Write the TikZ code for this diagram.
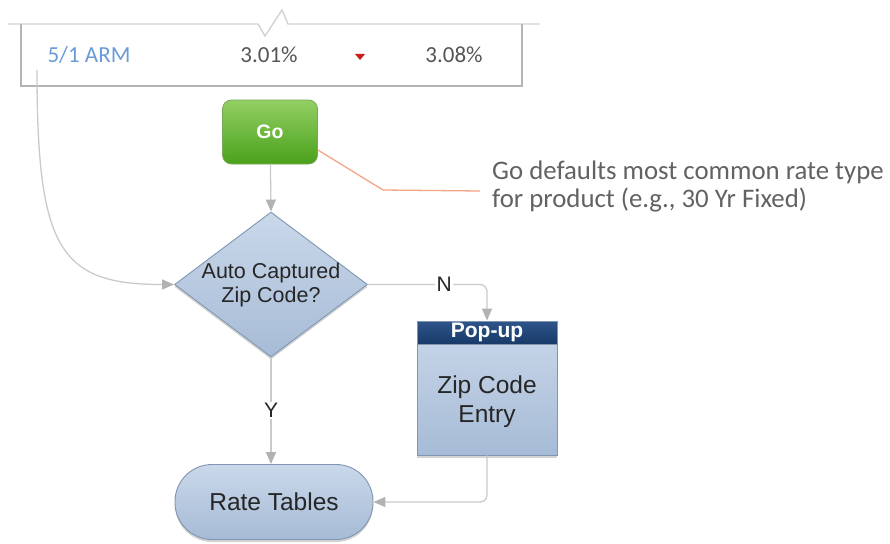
\documentclass[tikz,border=0pt]{standalone}
\usepackage{fontspec}
\setmainfont{Liberation Sans}
\newfontfamily\calfont{Carlito}
\usetikzlibrary{shapes.geometric,arrows.meta,shadows,calc}

\definecolor{lineGrey}{HTML}{CACACA}
\definecolor{tipGrey}{HTML}{B2B2B2}
\definecolor{boxGrey}{HTML}{B4B4B4}
\definecolor{rowLine}{HTML}{D2D2D2}
\definecolor{armBlue}{HTML}{6B9BD6}
\definecolor{rateText}{HTML}{555555}
\definecolor{downRed}{HTML}{C81E1E}
\definecolor{noteText}{HTML}{626262}
\definecolor{noteLine}{HTML}{F2A587}
\definecolor{goTop}{HTML}{93CF63}
\definecolor{goBot}{HTML}{4AA11B}
\definecolor{goEdge}{HTML}{79A85A}
\definecolor{blueTop}{HTML}{CAD8EA}
\definecolor{blueBot}{HTML}{A6BBD6}
\definecolor{blueEdge}{HTML}{7F95B0}
\definecolor{navyTop}{HTML}{2E548A}
\definecolor{navyBot}{HTML}{173A68}
\definecolor{nodeText}{HTML}{262626}

\begin{document}
\begin{tikzpicture}[x=1pt,y=-1pt,
  flowline/.style={draw=lineGrey, line width=1.3pt,
    -{Triangle[length=12pt,width=10pt,color=tipGrey]}},
  softshadow/.style={drop shadow={shadow xshift=0pt,shadow yshift=-2.5pt,opacity=0.35}},
  bluefill/.style={top color=blueTop, bottom color=blueBot, draw=blueEdge, line width=0.9pt},
  flowtext/.style={text=nodeText, font=\fontsize{24.5}{29}\selectfont, align=center},
  edgelabel/.style={fill=white, inner sep=1.5pt, text=nodeText, font=\fontsize{21}{24}\selectfont},
  rowtext/.style={font=\calfont\fontsize{23}{27}\selectfont, inner sep=0pt}
]
\useasboundingbox (0,0) rectangle (890,543);

% rate row with a break mark in its top rule
\draw[rowLine, line width=1.4pt] (8,24) -- (258,24) -- (265,36) -- (282,10) -- (288,24) -- (540,24);
\draw[boxGrey, line width=1.6pt] (21,24) -- (21,86) -- (522,86) -- (522,24);
\node[rowtext, text=armBlue] (arm) at (89,55) {5/1 ARM};
\node[rowtext, text=rateText] (rateA) at (269,55) {3.01\%};
\fill[downRed] (355,54) -- (365,54) -- (360,60) -- cycle;
\node[rowtext, text=rateText] (rateB) at (454,55) {3.08\%};
\coordinate (armsrc) at (37,70);

% Go button
\node[draw=goEdge, line width=0.8pt, top color=goTop, bottom color=goBot,
      rounded corners=9pt, minimum width=95pt, minimum height=64pt,
      text=white, font=\bfseries\fontsize{19.5}{22}\selectfont] (go) at (270,132) {Go};

% annotation
\node[anchor=west, inner sep=0pt, align=left, text=noteText,
      font=\calfont\fontsize{26.8}{28}\selectfont] (note) at (492,186)
      {Go defaults most common rate type\\for product (e.g., 30 Yr Fixed)};
\coordinate (notebend) at (383,190);
\draw[noteLine, line width=1.3pt] ([yshift=-18pt]go.east) -- (notebend)
      -- ([xshift=-12pt,yshift=-5pt]note.west);

% decision
\node[diamond, bluefill, softshadow, minimum width=193pt, minimum height=145pt,
      inner sep=0pt,
      label={[flowtext, font=\fontsize{21.5}{24}\selectfont]center:Auto Captured\\Zip Code?}]
      (dec) at (271,284.5) {};

% pop-up
\node[rectangle, bluefill, softshadow, minimum width=140pt, minimum height=134pt,
      inner sep=0pt] (popup) at (487,388) {};
\node[rectangle, top color=navyTop, bottom color=navyBot, draw=blueEdge, line width=0.9pt,
      anchor=north, minimum width=140pt, minimum height=23pt, inner sep=0pt,
      text=white, font=\bfseries\fontsize{21}{22}\selectfont] (hdr) at (popup.north) {Pop-up};
\node[flowtext] (ziptext) at (487,402) {Zip Code\\Entry};

% rate tables terminal
\node[rectangle, bluefill, softshadow, rounded corners=37pt, minimum width=198pt,
      minimum height=75pt, flowtext] (rate) at (274,502) {Rate Tables};

% connectors
\draw[flowline] (go) -- (dec.north);
\draw[flowline] (armsrc) .. controls (37,250) and (60,284.5) .. (dec.west);
\draw[flowline, rounded corners=7pt] (dec.east) -| (hdr.north)
      node[pos=0.32, edgelabel] {N};
\draw[flowline] (dec.south) -- (dec.south |- rate.north)
      node[pos=0.5, edgelabel] {Y};
\draw[flowline, rounded corners=7pt] (popup.south) |- (rate.east);
\end{tikzpicture}
\end{document}
